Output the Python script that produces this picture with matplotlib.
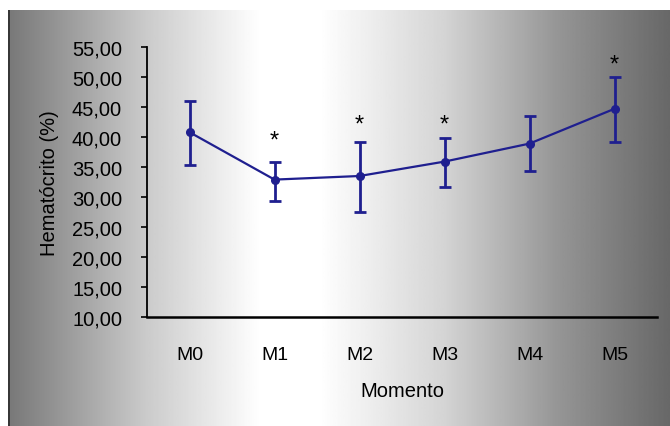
"""
Hematócrito (%) por momento, média ± desvio padrão, com asteriscos de significância.
"""

import matplotlib
matplotlib.use("Agg")
import matplotlib.pyplot as plt
import numpy as np
from matplotlib.ticker import FuncFormatter

plt.rcParams["font.family"] = ["Liberation Sans", "DejaVu Sans"]

# ── Data ──────────────────────────────────────────────────────────────────────
momentos = ["M0", "M1", "M2", "M3", "M4", "M5"]
media    = [40.8, 32.9, 33.5, 35.9, 38.9, 44.7]
sup      = [46.0, 35.9, 39.1, 39.8, 43.5, 50.0]   # upper end of the error bar
inf      = [35.4, 29.3, 27.5, 31.7, 34.4, 39.1]   # lower end of the error bar
sig      = [False, True, True, True, False, True]
sig_y    = [None, 39.4, 42.1, 42.0, None, 52.0]   # asterisk heights

LINE = "#1f1f8f"
W, H = 670, 427

fig = plt.figure(figsize=(W / 100, H / 100), dpi=100, facecolor="white")

# ── Gradient panel behind the chart ───────────────────────────────────────────
bg = fig.add_axes([8 / W, 0, 1 - 8 / W, 1 - 11 / H], zorder=-1)
xs = np.linspace(0, 1, 400)
shade = np.interp(xs, [0.0, 0.2, 0.38, 0.47, 0.66, 0.83, 1.0],
                  [120, 200, 255, 255, 212, 150, 104])
bg.imshow(shade[np.newaxis, :], cmap="gray", vmin=0, vmax=255,
          aspect="auto", extent=[0, 1, 0, 1], interpolation="bilinear")
bg.set_xlim(0, 1)
bg.set_ylim(0, 1)
bg.axis("off")
bg.axvline(0.002, color="#2a2a2a", lw=1.2)

# ── Main axes ─────────────────────────────────────────────────────────────────
ax = fig.add_axes([147 / W, 1 - 318 / H, (657 - 147) / W, (318 - 48) / H])
ax.set_facecolor("none")

x = np.arange(len(momentos))
m = np.array(media)
yerr = [m - np.array(inf), np.array(sup) - m]
ax.errorbar(x, m, yerr=yerr, color=LINE, lw=1.6, elinewidth=2.0,
            capsize=4.5, capthick=2.0, marker="o", ms=5.5, mfc=LINE, mec=LINE)

for xi, s, yy in zip(x, sig, sig_y):
    if s:
        ax.text(xi, yy, "*", ha="center", va="center", fontsize=17, color="black")

ax.set_xlim(-0.5, 5.5)
ax.set_ylim(10, 55)
ax.set_yticks(np.arange(10, 56, 5))
ax.yaxis.set_major_formatter(FuncFormatter(lambda v, _: f"{v:.2f}".replace(".", ",")))
ax.set_xticks(x)
ax.set_xticklabels(momentos)

ax.spines["top"].set_visible(False)
ax.spines["right"].set_visible(False)
ax.spines["left"].set_linewidth(1.3)
ax.spines["bottom"].set_linewidth(1.8)
ax.tick_params(axis="y", length=4, width=1.2, labelsize=14.5, pad=14, colors="black")
ax.tick_params(axis="x", length=0, labelsize=14, pad=21)

ax.set_ylabel("Hematócrito (%)", fontsize=14.5, labelpad=9)
ax.set_xlabel("Momento", fontsize=14.5, labelpad=13)

plt.savefig("out.png", dpi=100, facecolor=fig.get_facecolor())
